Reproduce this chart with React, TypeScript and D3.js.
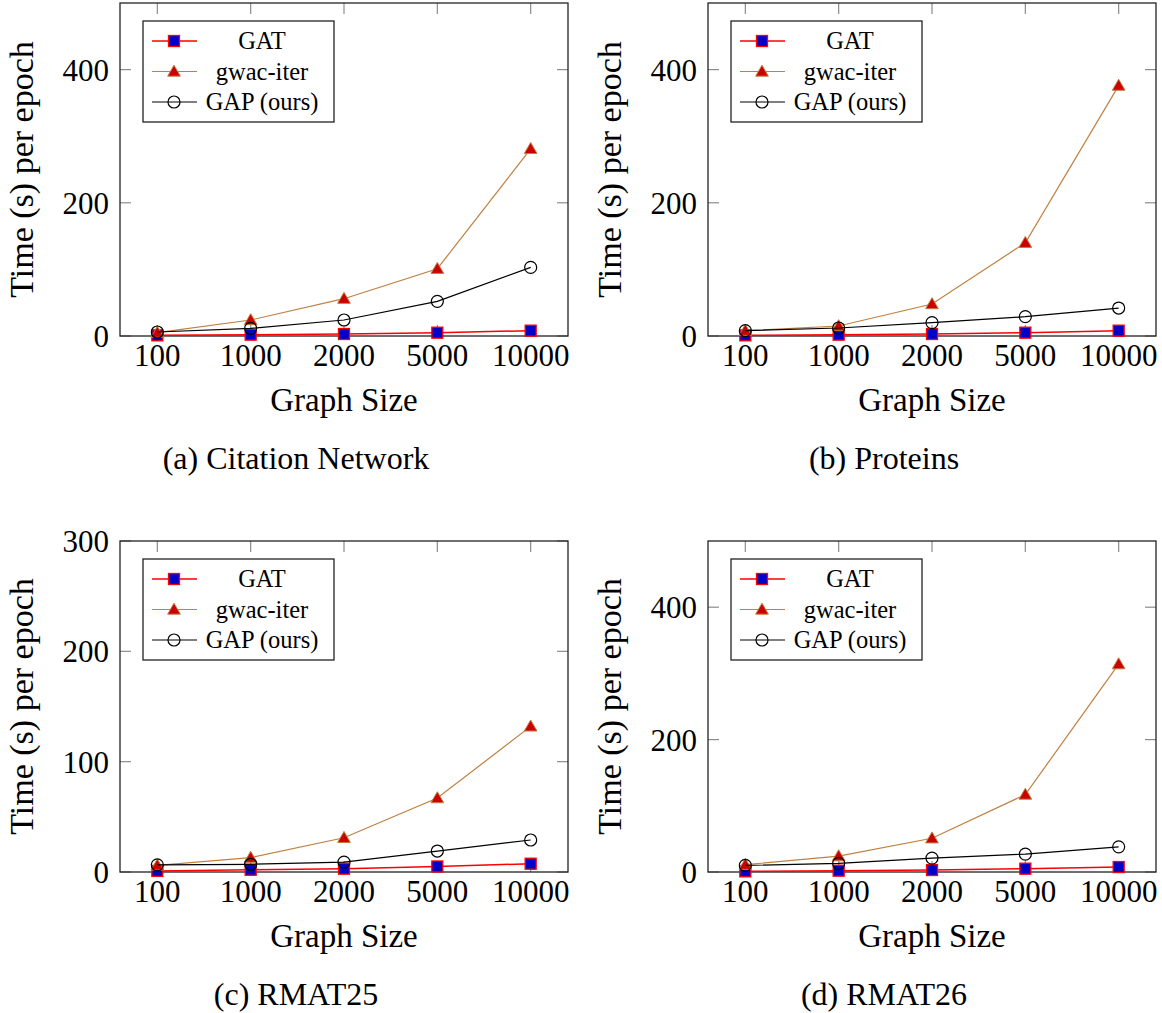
import React, { useEffect, useRef } from 'react';
import * as d3 from 'd3';

const sizes = ['100', '1000', '2000', '5000', '10000'];
const seriesNames = ['GAT', 'gwac-iter', 'GAP (ours)'];

// panel (a) Citation Network
const citationGAT = [1, 2, 3, 5, 8];
const citationGwac = [5, 24, 56, 101, 281];
const citationGAP = [6, 11.5, 24, 52, 103];

// panel (b) Proteins
const proteinsGAT = [1, 2, 3, 5, 8];
const proteinsGwac = [8, 15, 48, 140, 376];
const proteinsGAP = [8, 12, 20, 29, 42];

// panel (c) RMAT25
const rmat25GAT = [1, 2, 3, 5, 7.5];
const rmat25Gwac = [6, 13, 31, 67, 132];
const rmat25GAP = [6.5, 7, 9, 19, 29];

// panel (d) RMAT26
const rmat26GAT = [1, 2, 3, 5, 7.5];
const rmat26Gwac = [11, 24, 51, 117, 314];
const rmat26GAP = [10, 13, 21, 27, 38];

const yTicksDefault = [0, 200, 400];
const yTicksRmat25 = [0, 100, 200, 300];

const captions = ['(a) Citation Network', '(b) Proteins', '(c) RMAT25', '(d) RMAT26'];

const FONT = "Liberation Serif";
const RED = '#ff0000';
const BLUE = '#0000c8';
const BROWN = '#bf8040';
const DARKRED = '#cc0000';
const TICK = '#8c8c8c';

export default function App() {
    const ref = useRef<SVGSVGElement>(null);

    useEffect(() => {
        const svg = d3.select(ref.current);
        svg.selectAll('*').remove();

        const panels = [
            { left: 120, top: 3, bottom: 336, yMax: 500, ticks: yTicksDefault, data: [citationGAT, citationGwac, citationGAP], caption: captions[0] },
            { left: 708, top: 3, bottom: 336, yMax: 500, ticks: yTicksDefault, data: [proteinsGAT, proteinsGwac, proteinsGAP], caption: captions[1] },
            { left: 120, top: 541, bottom: 872, yMax: 300, ticks: yTicksRmat25, data: [rmat25GAT, rmat25Gwac, rmat25GAP], caption: captions[2] },
            { left: 708, top: 541, bottom: 872, yMax: 500, ticks: yTicksDefault, data: [rmat26GAT, rmat26Gwac, rmat26GAP], caption: captions[3] },
        ];
        const width = 448;

        const drawMarker = (g: any, kind: number, x: number, y: number) => {
            if (kind === 0) {
                g.append('rect')
                    .attr('x', x - 5.5).attr('y', y - 5.5)
                    .attr('width', 11).attr('height', 11)
                    .attr('fill', BLUE).attr('stroke', RED).attr('stroke-width', 1.3);
            } else if (kind === 1) {
                g.append('path')
                    .attr('d', d3.symbol().type(d3.symbolTriangle).size(70)())
                    .attr('transform', `translate(${x},${y + 1})`)
                    .attr('fill', DARKRED).attr('stroke', BROWN).attr('stroke-width', 1);
            } else {
                g.append('circle')
                    .attr('cx', x).attr('cy', y).attr('r', 6)
                    .attr('fill', 'none').attr('stroke', '#000').attr('stroke-width', 1.2);
            }
        };
        const lineColors = [RED, BROWN, '#000'];

        const label = (sel: any, size: number) =>
            sel.attr('font-family', FONT).attr('font-size', size).attr('fill', '#000');

        panels.forEach(p => {
            const g = svg.append('g');
            const right = p.left + width;

            const x = d3.scalePoint<string>()
                .domain(sizes)
                .range([p.left, right])
                .padding(0.4);
            const y = d3.scaleLinear()
                .domain([0, p.yMax])
                .range([p.bottom, p.top]);

            // ticks inside, on all four sides
            sizes.forEach(s => {
                const xx = x(s)!;
                g.append('line').attr('x1', xx).attr('x2', xx).attr('y1', p.top).attr('y2', p.top + 11)
                    .attr('stroke', TICK).attr('stroke-width', 1.2);
                g.append('line').attr('x1', xx).attr('x2', xx).attr('y1', p.bottom).attr('y2', p.bottom - 11)
                    .attr('stroke', TICK).attr('stroke-width', 1.2);
                label(g.append('text')
                    .attr('x', xx).attr('y', p.bottom + 30)
                    .attr('text-anchor', 'middle'), 31)
                    .text(s);
            });
            p.ticks.forEach(t => {
                const yy = y(t);
                g.append('line').attr('x1', p.left).attr('x2', p.left + 11).attr('y1', yy).attr('y2', yy)
                    .attr('stroke', TICK).attr('stroke-width', 1.2);
                g.append('line').attr('x1', right).attr('x2', right - 11).attr('y1', yy).attr('y2', yy)
                    .attr('stroke', TICK).attr('stroke-width', 1.2);
                label(g.append('text')
                    .attr('x', p.left - 11).attr('y', yy + 11)
                    .attr('text-anchor', 'end'), 31)
                    .text(t);
            });

            // axis box
            g.append('rect')
                .attr('x', p.left).attr('y', p.top)
                .attr('width', width).attr('height', p.bottom - p.top)
                .attr('fill', 'none').attr('stroke', '#222').attr('stroke-width', 1.3);

            // series
            p.data.forEach((vals, k) => {
                const line = d3.line<number>()
                    .x((d, i) => x(sizes[i])!)
                    .y(d => y(d));
                g.append('path')
                    .attr('d', line(vals))
                    .attr('fill', 'none')
                    .attr('stroke', lineColors[k])
                    .attr('stroke-width', k === 0 ? 1.5 : 1.2);
                vals.forEach((v, i) => drawMarker(g, k, x(sizes[i])!, y(v)));
            });

            // legend
            const lx = p.left + 23;
            const ly = p.top + 18;
            g.append('rect')
                .attr('x', lx).attr('y', ly)
                .attr('width', 191).attr('height', 101)
                .attr('fill', '#fff').attr('stroke', '#222').attr('stroke-width', 1.3);
            seriesNames.forEach((name, k) => {
                const ry = ly + 20 + k * 30.5;
                g.append('line')
                    .attr('x1', lx + 9).attr('x2', lx + 54)
                    .attr('y1', ry).attr('y2', ry)
                    .attr('stroke', lineColors[k]).attr('stroke-width', k === 0 ? 1.5 : 1.2);
                drawMarker(g, k, lx + 31, ry);
                label(g.append('text')
                    .attr('x', lx + 119).attr('y', ry + 8)
                    .attr('text-anchor', 'middle'), 24.5)
                    .text(name);
            });

            // axis labels
            label(g.append('text')
                .attr('x', (p.left + right) / 2).attr('y', p.bottom + 75)
                .attr('text-anchor', 'middle'), 33)
                .text('Graph Size');
            label(g.append('text')
                .attr('transform', `translate(${p.left - 87}, ${(p.top + p.bottom) / 2}) rotate(-90)`)
                .attr('text-anchor', 'middle'), 34)
                .text('Time (s) per epoch');

            // caption
            label(g.append('text')
                .attr('x', p.left + 176).attr('y', p.bottom + 133)
                .attr('text-anchor', 'middle'), 32)
                .text(p.caption);
        });
    }, []);

    return (
        <svg ref={ref} width={1162} height={1013}
            style={{ position: 'absolute', left: 0, top: 0, background: '#fff' }} />
    );
}
